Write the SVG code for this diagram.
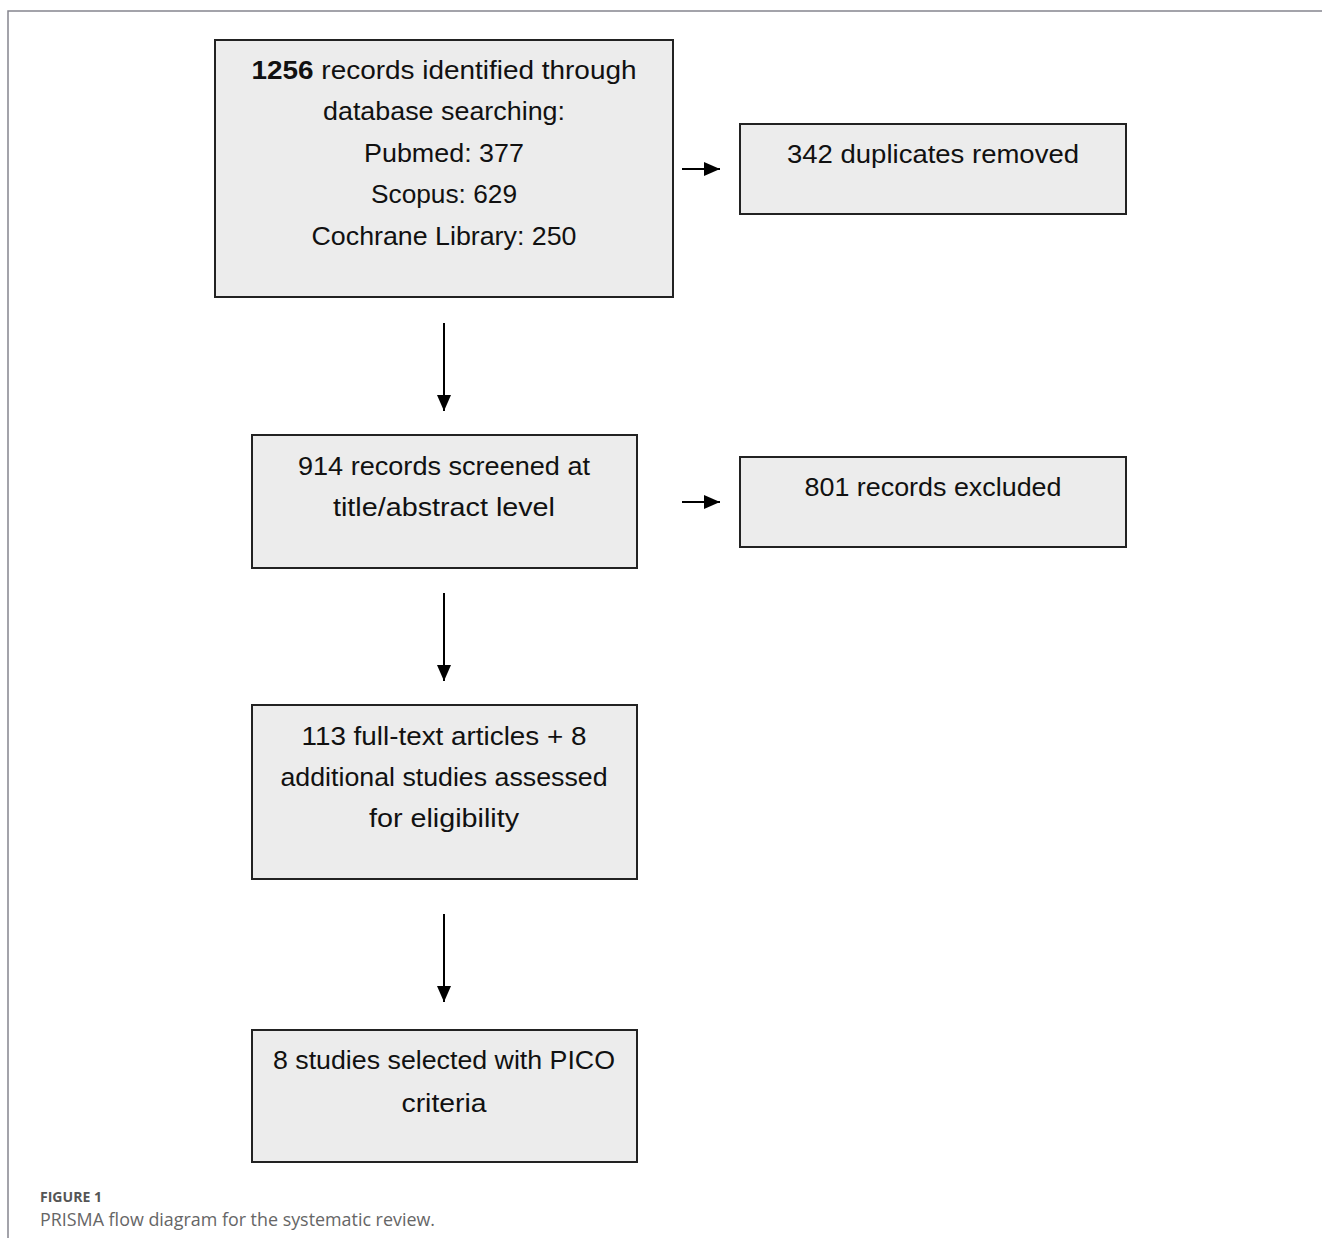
<svg xmlns="http://www.w3.org/2000/svg" width="1322" height="1238" viewBox="0 0 1322 1238">
<style>
.box{fill:#ececec;stroke:#222;stroke-width:2}
.t{font-family:"Liberation Sans",Arial,sans-serif;font-size:26px;fill:#111;text-anchor:middle}
.conn{stroke:#000;stroke-width:2;fill:none}
.frame{stroke:#85858e;stroke-width:1.5;fill:none}
.cap1{font-family:"Open Sans","Liberation Sans",sans-serif;font-size:13.5px;font-weight:bold;fill:#555}
.cap2{font-family:"Open Sans","Liberation Sans",sans-serif;font-size:18px;fill:#666}
</style>
<defs>
<marker id="ah" markerUnits="userSpaceOnUse" markerWidth="16" markerHeight="14" refX="16" refY="7" orient="auto" viewBox="0 0 16 14">
<path d="M0,0 L16,7 L0,14 z" fill="#000"/>
</marker>
</defs>
<rect width="1322" height="1238" fill="#fff"/>
<path class="frame" d="M1322,11 H8 V1238"/>

<g id="connectors">
<line class="conn" x1="682" y1="169" x2="720" y2="169" marker-end="url(#ah)"/>
<line class="conn" x1="444" y1="323" x2="444" y2="411" marker-end="url(#ah)"/>
<line class="conn" x1="682" y1="502" x2="720" y2="502" marker-end="url(#ah)"/>
<line class="conn" x1="444" y1="593" x2="444" y2="681" marker-end="url(#ah)"/>
<line class="conn" x1="444" y1="914" x2="444" y2="1002" marker-end="url(#ah)"/>
</g>

<g id="identified">
<rect class="box" x="215" y="40" width="458" height="257"/>
<text class="t" x="444" y="79" textLength="385" lengthAdjust="spacingAndGlyphs"><tspan font-weight="bold">1256</tspan> records identified through</text>
<text class="t" x="444" y="120" textLength="242" lengthAdjust="spacingAndGlyphs">database searching:</text>
<text class="t" x="444" y="162" textLength="160" lengthAdjust="spacingAndGlyphs">Pubmed: 377</text>
<text class="t" x="444" y="203" textLength="146" lengthAdjust="spacingAndGlyphs">Scopus: 629</text>
<text class="t" x="444" y="245" textLength="265" lengthAdjust="spacingAndGlyphs">Cochrane Library: 250</text>
</g>

<g id="duplicates">
<rect class="box" x="740" y="124" width="386" height="90"/>
<text class="t" x="933" y="163" textLength="292" lengthAdjust="spacingAndGlyphs">342 duplicates removed</text>
</g>

<g id="screened">
<rect class="box" x="252" y="435" width="385" height="133"/>
<text class="t" x="444" y="475" textLength="292" lengthAdjust="spacingAndGlyphs">914 records screened at</text>
<text class="t" x="444" y="516" textLength="222" lengthAdjust="spacingAndGlyphs">title/abstract level</text>
</g>

<g id="excluded">
<rect class="box" x="740" y="457" width="386" height="90"/>
<text class="t" x="933" y="496" textLength="257" lengthAdjust="spacingAndGlyphs">801 records excluded</text>
</g>

<g id="fulltext">
<rect class="box" x="252" y="705" width="385" height="174"/>
<text class="t" x="444" y="745" textLength="285" lengthAdjust="spacingAndGlyphs">113 full-text articles + 8</text>
<text class="t" x="444" y="786" textLength="327" lengthAdjust="spacingAndGlyphs">additional studies assessed</text>
<text class="t" x="444" y="827" textLength="150" lengthAdjust="spacingAndGlyphs">for eligibility</text>
</g>

<g id="selected">
<rect class="box" x="252" y="1030" width="385" height="132"/>
<text class="t" x="444" y="1069" textLength="342" lengthAdjust="spacingAndGlyphs">8 studies selected with PICO</text>
<text class="t" x="444" y="1112" textLength="85" lengthAdjust="spacingAndGlyphs">criteria</text>
</g>

<g id="caption">
<text class="cap1" x="40" y="1202" textLength="62" lengthAdjust="spacingAndGlyphs">FIGURE 1</text>
<text class="cap2" x="40" y="1226" textLength="395" lengthAdjust="spacingAndGlyphs">PRISMA flow diagram for the systematic review.</text>
</g>
</svg>
